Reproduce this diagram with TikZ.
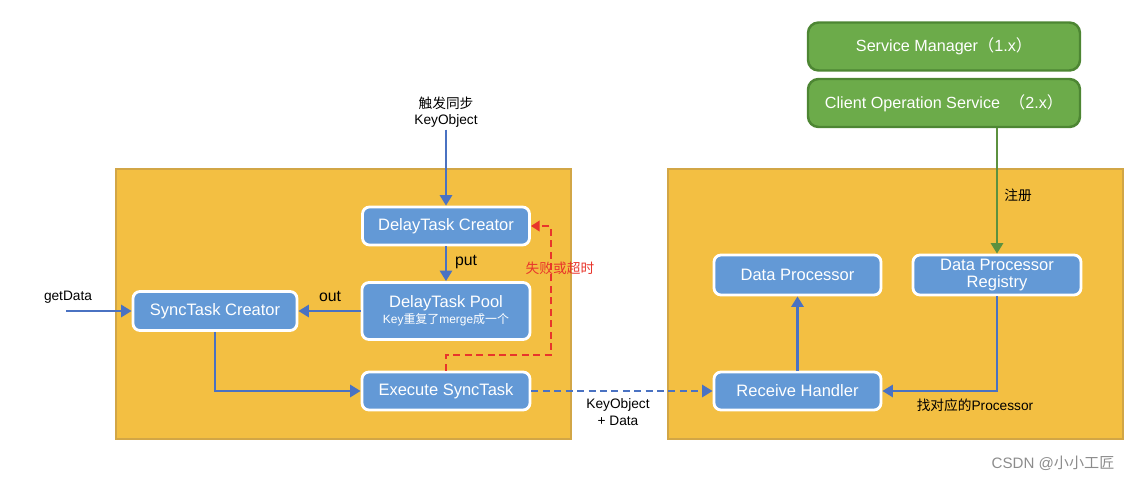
\documentclass[tikz,border=0pt]{standalone}
\usepackage{fontspec}
\setmainfont{Liberation Sans}
\newfontfamily\cjk{Noto Sans CJK SC}
\usetikzlibrary{arrows.meta}

\definecolor{yard}{HTML}{F3BF42}
\definecolor{yardline}{HTML}{D2A646}
\definecolor{taskblue}{HTML}{6399D6}
\definecolor{flowblue}{HTML}{4A72C2}
\definecolor{svcgreen}{HTML}{6CAB4A}
\definecolor{svcline}{HTML}{4D8633}
\definecolor{failred}{HTML}{E8352B}

\newcommand{\pxu}{0.02cm}

\begin{document}
\begin{tikzpicture}[x=0.02cm, y=-0.02cm,
    zone/.style={fill=yard, draw=yardline, line width=0.6pt},
    task/.style={draw=white, line width=1.6pt, fill=taskblue, rounded corners=4pt,
      text=white, font=\fontsize{9.4}{10}\selectfont, align=center, inner sep=0pt},
    svc/.style={draw=svcline, line width=1.4pt, fill=svcgreen, rounded corners=6pt,
      text=white, font=\fontsize{9.2}{10}\selectfont, inner sep=0pt,
      minimum width=272*\pxu, minimum height=48*\pxu},
    flow/.style={draw=flowblue, line width=1.3pt, -{Triangle[length=6pt,width=7pt]}},
    dashflow/.style={dash pattern=on 4pt off 2.5pt},
    note/.style={font=\fontsize{7.8}{9.5}\selectfont, align=center, inner sep=1pt}]
      \useasboundingbox (0,0) rectangle (1137,481);

      \draw[zone] (116,169) rectangle (571,439);
      \draw[zone] (668,169) rectangle (1123,439);

      \node[svc] (svcmgr) at (944,46.5) {Service Manager{\cjk （}1.x{\cjk ）}};
      \node[svc] (clientop) at (944,103) {Client Operation Service \ {\cjk （}2.x{\cjk ）}};

      \node[task, minimum width=167*\pxu, minimum height=38*\pxu] (dtcreator) at (446,226) {DelayTask Creator};
      \node[task, minimum width=168*\pxu, minimum height=57*\pxu] (dtpool) at (446,311)
        {DelayTask Pool\\[-1pt]{\fontsize{6.8}{8}\selectfont Key{\cjk 重复了}merge{\cjk 成一个}}};
      \node[task, minimum width=168*\pxu, minimum height=38*\pxu] (execsync) at (446,391) {Execute SyncTask};
      \node[task, minimum width=164*\pxu, minimum height=39*\pxu] (stcreator) at (215,311) {SyncTask Creator};

      \node[task, minimum width=167*\pxu, minimum height=40*\pxu] (dataproc) at (797.5,275) {Data Processor};
      \node[task, minimum width=168*\pxu, minimum height=40*\pxu] (procreg) at (997,275)
        {\raisebox{1pt}{Data Processor}\\[-2pt]\raisebox{-1pt}{Registry}};
      \node[task, minimum width=167*\pxu, minimum height=38*\pxu] (recvh) at (797.5,391) {Receive Handler};

      \node[note] (trigger) at (446,112) {{\cjk 触发同步}\\KeyObject};
      \node[note] (getdata) at (68,297) {getData};
      \coordinate (getin) at (66,311);
      \coordinate (failturn) at (551,355);

      \draw[flow] (trigger.south) -- (dtcreator.north);
      \draw[flow] (dtcreator.south) -- (dtpool.north);
      \draw[flow] (dtpool.west) -- (stcreator.east);
      \draw[flow] (getin) -- (stcreator.west);
      \draw[flow] (stcreator.south) |- (execsync.west);
      \draw[draw=failred, line width=1.4pt, dashflow, -{Triangle[length=5pt,width=6pt]}]
        (execsync.north) |- (failturn) |- (dtcreator.east);
      \draw[flow, dashflow] (execsync.east) -- (recvh.west);
      \draw[flow] (recvh.north) -- (dataproc.south);
      \draw[flow] (procreg.south) |- (recvh.east);
      \draw[draw=svcgreen!85!black, line width=1.3pt, -{Triangle[length=6pt,width=7pt]}]
        (clientop.south -| procreg.north) -- (procreg.north);

      \node[note, anchor=west, font=\fontsize{9}{10}\selectfont] at (453,262) {put};
      \node[note, font=\fontsize{9}{10}\selectfont] at (330,296) {out};
      \node[note, text=failred] at (560,268) {\cjk 失败或超时};
      \node[note] at (618,412) {KeyObject\\+ Data};
      \node[note] at (1018,195) {\cjk 注册};
      \node[note] at (975,405) {{\cjk 找对应的}Processor};
      \node[note, text=black!45, font=\fontsize{8.6}{10}\selectfont] at (1053,463) {CSDN @{\cjk 小小工匠}};
\end{tikzpicture}
\end{document}
